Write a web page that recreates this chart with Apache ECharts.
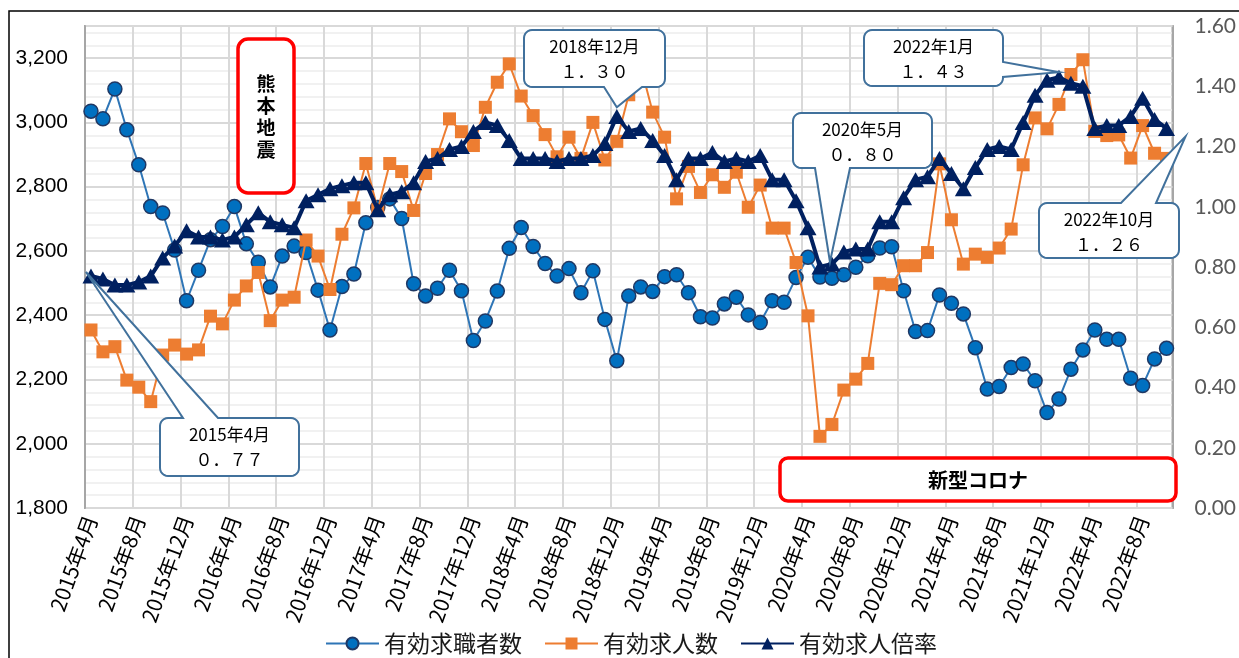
<!DOCTYPE html>
<html>
<head>
<meta charset="utf-8">
<script src="https://cdn.jsdelivr.net/npm/echarts@6/dist/echarts.min.js"></script>
<style>
html,body{margin:0;padding:0;background:#fff;}
#main{width:1239px;height:658px;}
</style>
</head>
<body>
<div id="main"></div>
<script>
// ---- data ----
const categories = [
 '2015年4月','2015年5月','2015年6月','2015年7月','2015年8月','2015年9月','2015年10月','2015年11月','2015年12月',
 '2016年1月','2016年2月','2016年3月','2016年4月','2016年5月','2016年6月','2016年7月','2016年8月','2016年9月','2016年10月','2016年11月','2016年12月',
 '2017年1月','2017年2月','2017年3月','2017年4月','2017年5月','2017年6月','2017年7月','2017年8月','2017年9月','2017年10月','2017年11月','2017年12月',
 '2018年1月','2018年2月','2018年3月','2018年4月','2018年5月','2018年6月','2018年7月','2018年8月','2018年9月','2018年10月','2018年11月','2018年12月',
 '2019年1月','2019年2月','2019年3月','2019年4月','2019年5月','2019年6月','2019年7月','2019年8月','2019年9月','2019年10月','2019年11月','2019年12月',
 '2020年1月','2020年2月','2020年3月','2020年4月','2020年5月','2020年6月','2020年7月','2020年8月','2020年9月','2020年10月','2020年11月','2020年12月',
 '2021年1月','2021年2月','2021年3月','2021年4月','2021年5月','2021年6月','2021年7月','2021年8月','2021年9月','2021年10月','2021年11月','2021年12月',
 '2022年1月','2022年2月','2022年3月','2022年4月','2022年5月','2022年6月','2022年7月','2022年8月','2022年9月','2022年10月'
];

const jobSeekers = [
 3035,3011,3104,2977,2868,2738,2718,2603,2445,
 2540,2635,2676,2738,2622,2565,2488,2584,2615,2595,2478,2354,
 2489,2528,2688,2735,2762,2701,2498,2460,2484,2540,2476,2321,
 2382,2475,2608,2673,2614,2561,2522,2545,2470,2538,2387,2258,
 2460,2488,2474,2520,2526,2470,2395,2391,2435,2456,2401,2377,
 2445,2440,2517,2580,2519,2515,2526,2549,2585,2609,2613,2476,
 2349,2352,2463,2437,2404,2299,2170,2178,2237,2248,2196,2097,
 2139,2232,2292,2354,2325,2325,2204,2181,2264,2297
];

const jobOffers = [
 2354,2286,2302,2198,2176,2131,2276,2307,2279,
 2292,2397,2373,2447,2491,2533,2383,2447,2456,2634,2584,2480,
 2652,2734,2872,2728,2872,2847,2726,2841,2900,3011,2971,2928,
 3047,3125,3182,3082,3021,2962,2893,2954,2888,3000,2883,2941,
 3086,3175,3032,2954,2762,2863,2782,2837,2798,2845,2736,2805,
 2671,2671,2564,2398,2023,2060,2167,2201,2250,2499,2495,2554,
 2554,2595,2871,2697,2559,2590,2580,2609,2668,2868,3014,2980,
 3056,3149,3195,2972,2959,2961,2889,2990,2904,2888
];

const openingsRatio = [
 0.77,0.76,0.74,0.74,0.75,0.77,0.83,0.87,0.92,
 0.90,0.90,0.89,0.90,0.94,0.98,0.95,0.94,0.93,1.02,1.04,1.06,
 1.07,1.08,1.08,0.99,1.04,1.05,1.08,1.15,1.16,1.19,1.20,1.25,
 1.28,1.27,1.22,1.16,1.16,1.16,1.15,1.16,1.16,1.17,1.21,1.30,
 1.25,1.26,1.22,1.17,1.09,1.16,1.16,1.18,1.15,1.16,1.15,1.17,
 1.09,1.09,1.02,0.93,0.80,0.81,0.85,0.86,0.86,0.95,0.95,1.03,
 1.09,1.10,1.16,1.11,1.06,1.13,1.19,1.20,1.19,1.28,1.37,1.42,
 1.43,1.41,1.40,1.26,1.27,1.27,1.30,1.36,1.29,1.26
];

const seriesNames = ['有効求職者数','有効求人数','有効求人倍率'];

// callout annotations: category label, displayed value
const calloutCats = ['2015年4月','2018年12月','2020年5月','2022年1月','2022年10月'];
const calloutTexts = ['０．７７','１．３０','０．８０','１．４３','１．２６'];

const eventLabels = ['熊本地震','新型コロナ'];

// ---- chart ----
const chart = echarts.init(document.getElementById('main'), null, {renderer:'canvas'});

const option = {
  animation:false,
  backgroundColor:'#fff',
  grid:{left:85,right:64,top:26,bottom:150,show:true,borderColor:'#a6a6a6',borderWidth:2,containLabel:false},
  legend:{
    data:seriesNames,
    left:320, top:627,
    itemWidth:53, itemHeight:15, itemGap:22,
    textStyle:{fontSize:23,fontFamily:'"Noto Sans CJK JP"',color:'#1a1a1a'}
  },
  xAxis:{
    type:'category',
    data:categories,
    boundaryGap:true,
    axisLine:{show:true,lineStyle:{color:'#a6a6a6',width:2}},
    axisTick:{show:false},
    axisLabel:{interval:3,rotate:70,fontSize:21,fontFamily:'"Noto Sans CJK JP"',color:'#000',margin:8},
    splitLine:{show:true,interval:3,lineStyle:{color:'#d9d9d9',width:2}}
  },
  yAxis:[
    {
      type:'value',position:'left',min:1800,max:3300,interval:200,z:2,
      axisLine:{show:true,lineStyle:{color:'#a6a6a6',width:2}},
      axisTick:{show:false},
      axisLabel:{showMaxLabel:false,fontSize:21,fontFamily:'"Liberation Sans"',color:'#000',margin:17,
        formatter:v=>v.toLocaleString('en-US')},
      splitLine:{show:true,lineStyle:{color:'#d9d9d9',width:2}}
    },
    {
      type:'value',position:'right',min:0,max:1.6,interval:0.2,
      axisLine:{show:true,lineStyle:{color:'#a6a6a6',width:2}},
      axisTick:{show:false},
      axisLabel:{fontSize:21,fontFamily:'Lato',color:'#595959',margin:22,formatter:v=>v.toFixed(2)},
      splitLine:{show:false}
    },
    {
      type:'value',position:'left',min:1800,max:3300,interval:40,z:0,
      axisLine:{show:false},axisTick:{show:false},axisLabel:{show:false},
      splitLine:{show:true,lineStyle:{color:'#ececec',width:1.5}}
    }
  ],
  series:[
    {
      name:seriesNames[0],type:'line',yAxisIndex:0,data:jobSeekers,z:2,
      symbol:'circle',symbolSize:14,showAllSymbol:true,
      itemStyle:{color:'#0070C0',borderColor:'#1F3864',borderWidth:1.5},
      lineStyle:{color:'#2E75B6',width:2}
    },
    {
      name:seriesNames[1],type:'line',yAxisIndex:0,data:jobOffers,z:3,
      symbol:'rect',symbolSize:13,showAllSymbol:true,
      itemStyle:{color:'#ED7D31'},
      lineStyle:{color:'#ED7D31',width:2}
    },
    {
      name:seriesNames[2],type:'line',yAxisIndex:1,data:openingsRatio,z:4,
      symbol:'triangle',symbolSize:[17,15],showAllSymbol:true,
      itemStyle:{color:'#002060'},
      lineStyle:{color:'#002060',width:4}
    }
  ]
};
chart.setOption(option);

// ---- annotations (layout boxes; pointer tips anchored to data points) ----
function arcPts(cx,cy,r,a0,a1){
  const pts=[];const n=6;
  for(let k=0;k<=n;k++){const a=(a0+(a1-a0)*k/n)*Math.PI/180;pts.push([cx+r*Math.cos(a),cy+r*Math.sin(a)]);}
  return pts;
}
function calloutPoints(b,side,p1,p2,tip){
  const {x,y,w,h}=b;const r=8;let P=[];
  P=P.concat(arcPts(x+r,y+r,r,180,270));
  if(side==='top'){P.push([p1,y],tip,[p2,y]);}
  P=P.concat(arcPts(x+w-r,y+r,r,270,360));
  if(side==='right'){P.push([x+w,p1],tip,[x+w,p2]);}
  P=P.concat(arcPts(x+w-r,y+h-r,r,0,90));
  if(side==='bottom'){P.push([p2,y+h],tip,[p1,y+h]);}
  P=P.concat(arcPts(x+r,y+h-r,r,90,180));
  return P;
}
const calloutLayout = [
  {box:{x:160,y:418,w:139,h:58},side:'top',p1:183,p2:218,off:[-5,-4]},
  {box:{x:524,y:30,w:141,h:57},side:'bottom',p1:604,p2:642,off:[0,-9]},
  {box:{x:793,y:113,w:139,h:55},side:'bottom',p1:815,p2:850,off:[10,-5]},
  {box:{x:864,y:30,w:139,h:56},side:'right',p1:62,p2:77,off:[0,-5]},
  {box:{x:1039,y:203,w:140,h:55},side:'top',p1:1121,p2:1156,off:[19,8]}
];
const elements=[];
// outer chart frame
elements.push({type:'rect',silent:true,z:1,shape:{x:9,y:11,width:1260,height:700},style:{fill:'none',stroke:'#000',lineWidth:1.5}});
calloutCats.forEach((cat,k)=>{
  const idx=categories.indexOf(cat);
  const p=chart.convertToPixel({seriesIndex:2},[idx,openingsRatio[idx]]);
  const L=calloutLayout[k];
  const tip=[p[0]+L.off[0],p[1]+L.off[1]];
  elements.push({type:'polygon',z:100,silent:true,shape:{points:calloutPoints(L.box,L.side,L.p1,L.p2,tip)},
    style:{fill:'#fff',stroke:'#41719C',lineWidth:2}});
  const cx=L.box.x+L.box.w/2;
  elements.push({type:'text',z:101,silent:true,x:cx,y:L.box.y+17,
    style:{text:cat,fontSize:17,fontFamily:'"Noto Sans CJK JP"',fill:'#000',align:'center',verticalAlign:'middle'}});
  elements.push({type:'text',z:101,silent:true,x:cx,y:L.box.y+42,
    style:{text:calloutTexts[k],fontSize:17,fontFamily:'"Noto Sans CJK JP"',fill:'#000',align:'center',verticalAlign:'middle'}});
});
// event boxes
elements.push({type:'rect',z:100,silent:true,shape:{x:238,y:39,width:56,height:154,r:10},style:{fill:'#fff',stroke:'#FF0000',lineWidth:3.5}});
elements.push({type:'text',z:101,silent:true,x:266,y:117,
  style:{text:eventLabels[0].split('').join('\n'),fontSize:19,fontWeight:'bold',lineHeight:22,fontFamily:'"Noto Sans CJK JP"',fill:'#000',align:'center',verticalAlign:'middle'}});
elements.push({type:'rect',z:100,silent:true,shape:{x:780,y:458,width:396,height:43,r:8},style:{fill:'#fff',stroke:'#FF0000',lineWidth:3.5}});
elements.push({type:'text',z:101,silent:true,x:978,y:480,
  style:{text:eventLabels[1],fontSize:20,fontWeight:'bold',fontFamily:'"Noto Sans CJK JP"',fill:'#000',align:'center',verticalAlign:'middle'}});
chart.setOption({graphic:{elements:elements}});
</script>
</body>
</html>
